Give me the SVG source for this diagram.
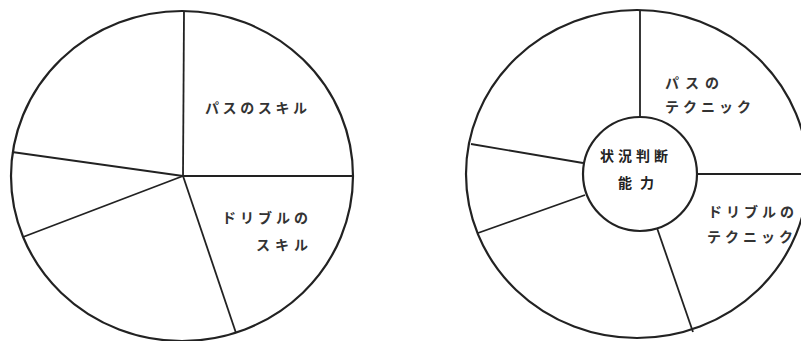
<svg xmlns="http://www.w3.org/2000/svg" width="801" height="341" viewBox="0 0 801 341">
<style>
.rim{fill:none;stroke:#222;stroke-width:2.2}
.sp{fill:none;stroke:#222;stroke-width:1.8}
.t{font-family:"Noto Sans CJK JP","Noto Sans",sans-serif;font-size:14px;font-weight:bold;fill:#333}
.k{font-family:"Noto Sans CJK JP","Noto Sans",sans-serif;font-size:14px;font-weight:bold;fill:#222}
</style>
<rect width="801" height="341" fill="#fff"/>
<g id="chart-left">
<ellipse class="rim" cx="182" cy="176" rx="171" ry="165"/>
<g id="left-spokes">
<line class="sp" x1="183" y1="176" x2="184" y2="11"/>
<line class="sp" x1="183" y1="176" x2="353" y2="176"/>
<line class="sp" x1="183" y1="176" x2="236" y2="333"/>
<line class="sp" x1="183" y1="176" x2="23" y2="237"/>
<line class="sp" x1="183" y1="176" x2="12" y2="152"/>
</g>
<g id="left-pass">
<text class="t" x="205" y="113" textLength="102" lengthAdjust="spacing">パスのスキル</text>
</g>
<g id="left-dribble">
<text class="t" x="222" y="223" textLength="86" lengthAdjust="spacing">ドリブルの</text>
<text class="t" x="256" y="250" textLength="52" lengthAdjust="spacing">スキル</text>
</g>
</g>
<g id="chart-right">
<ellipse class="rim" cx="637" cy="174" rx="171" ry="164"/>
<g id="right-spokes">
<line class="sp" x1="640" y1="118" x2="640" y2="10"/>
<line class="sp" x1="698" y1="174" x2="801" y2="174"/>
<line class="sp" x1="657" y1="228" x2="693" y2="332"/>
<line class="sp" x1="585" y1="195" x2="478" y2="233"/>
<line class="sp" x1="583" y1="163" x2="471" y2="144"/>
</g>
<g id="center">
<circle class="rim" cx="640" cy="174" r="57"/>
<text class="k" x="600" y="161" textLength="68" lengthAdjust="spacing">状況判断</text>
<text class="k" x="618" y="188" textLength="36" lengthAdjust="spacing">能力</text>
</g>
<g id="right-pass">
<text class="t" x="665" y="88" textLength="54" lengthAdjust="spacing">パスの</text>
<text class="t" x="665" y="112" textLength="86" lengthAdjust="spacing">テクニック</text>
</g>
<g id="right-dribble">
<text class="t" x="708" y="217" textLength="86" lengthAdjust="spacing">ドリブルの</text>
<text class="t" x="707" y="242" textLength="86" lengthAdjust="spacing">テクニック</text>
</g>
</g>
</svg>
